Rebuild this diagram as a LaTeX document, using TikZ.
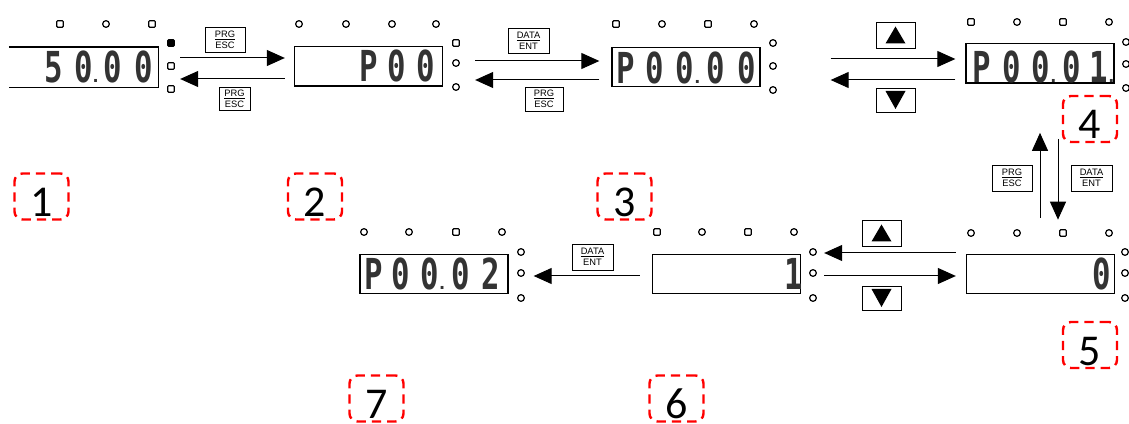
\documentclass[tikz,border=0pt]{standalone}
\usepackage{fontspec}
\usetikzlibrary{arrows.meta,calc}
\newfontfamily\keyf{Liberation Sans}
\newfontfamily\labf{Carlito}
\newfontfamily\digf{DejaVu Sans Mono}
\newfontfamily\dotf{DejaVu Sans}
\newcommand\segdig[1]{\scalebox{0.72}[1]{#1}}
\newcommand\segdot[1]{\scalebox{0.72}[1]{#1}\rlap{\dotf\bfseries\fontsize{12}{12}\selectfont .}}
\tikzset{
 disp/.style={draw, line width=1pt, minimum width=111pt, minimum height=29.5pt, inner sep=0pt},
 dline/.style={line width=1pt},
 dig/.style={font=\digf\bfseries\fontsize{32}{32}\selectfont, text=black!80, inner sep=0pt, anchor=base},
 led/.style={circle, draw, line width=0.9pt, minimum size=5pt, inner sep=0pt},
 ledsq/.style={rectangle, rounded corners=0.8pt, draw, line width=0.9pt, minimum size=5pt, inner sep=0pt},
 ledon/.style={ledsq, fill=black},
 key/.style={draw, line width=0.6pt, inner sep=0pt, align=center, font=\keyf\fontsize{7}{8.5}\selectfont},
 btn/.style={draw, line width=0.6pt, inner sep=0pt, minimum width=29.25pt},
 arr/.style={line width=0.75pt, -{Triangle[length=13.5pt,width=12pt]}},
 lab/.style={draw=red, line width=1.8pt, dash pattern=on 7pt off 4.5pt, rounded corners=6pt, minimum width=40.5pt, minimum height=34.5pt, inner sep=0pt, text height=30pt, text depth=0pt, font=\labf\fontsize{33}{33}\selectfont},
}
\begin{document}
\begin{tikzpicture}[x=0.75pt,y=-0.75pt]
\useasboundingbox (0,0) rectangle (1129,424);
\clip (0,0) rectangle (1129,424);

% displays
\node[disp, draw=none, name=d1] at (83.5,67.5) {};
\draw[dline] (d1.north west) -- (d1.north east) -- (d1.south east) -- (d1.south west);
\node[disp, name=d2] at (368.5,66.5) {};
\node[disp, name=d3] at (686,67) {};
\node[disp, name=d4] at (1040,63.5) {};
\node[disp, name=d5] at (1040.5,274) {};
\node[disp, name=d6] at (726.5,274) {};
\node[disp, name=d7] at (434,274) {};

% digits
\node[dig, name=g1-1] at (53.5,83) {\segdig{5}};
\node[dig, name=g1-2] at (83.5,83) {\segdot{0}};
\node[dig, name=g1-3] at (113,83) {\segdig{0}};
\node[dig, name=g1-4] at (144,83) {\segdig{0}};
\node[dig, name=g2-1] at (368.5,82) {\segdig{P}};
\node[dig, name=g2-2] at (396.5,82) {\segdig{0}};
\node[dig, name=g2-3] at (426,82) {\segdig{0}};
\node[dig, name=g3-1] at (626,84) {\segdig{P}};
\node[dig, name=g3-2] at (655,84) {\segdig{0}};
\node[dig, name=g3-3] at (685,84) {\segdot{0}};
\node[dig, name=g3-4] at (716,84) {\segdig{0}};
\node[dig, name=g3-5] at (747,84) {\segdig{0}};
\node[dig, name=g4-1] at (982,83) {\segdig{P}};
\node[dig, name=g4-2] at (1012,83) {\segdig{0}};
\node[dig, name=g4-3] at (1041,83) {\segdot{0}};
\node[dig, name=g4-4] at (1072,83) {\segdig{0}};
\node[dig, name=g4-5] at (1099,83) {\segdot{1}};
\node[dig, name=g5-1] at (1102,290) {\segdig{0}};
\node[dig, name=g6-1] at (794,290) {\segdig{1}};
\node[dig, name=g7-1] at (374,290) {\segdig{P}};
\node[dig, name=g7-2] at (401,290) {\segdig{0}};
\node[dig, name=g7-3] at (430,290) {\segdot{0}};
\node[dig, name=g7-4] at (461,290) {\segdig{0}};
\node[dig, name=g7-5] at (491,290) {\segdig{2}};

% indicators
\foreach \x/\y/\s [count=\i] in {60/24/ledsq,106/24/led,152/24/ledsq,171/43/ledon,171/66/ledsq,171/89/ledsq}
  \node[\s, name=i1-\i] at (\x,\y) {};
\foreach \x/\y/\s [count=\i] in {299/24/led,346/24/led,392/24/led,436/24/led,456/43/ledsq,456/63/led,456/87/led}
  \node[\s, name=i2-\i] at (\x,\y) {};
\foreach \x/\y/\s [count=\i] in {616/24/ledsq,662/24/led,708/24/ledsq,754/24/led,773/43/led,773/66/led,773/90/led}
  \node[\s, name=i3-\i] at (\x,\y) {};
\foreach \x/\y/\s [count=\i] in {971/22/ledsq,1017/22/led,1063/22/ledsq,1109/22/led,1126/42/led,1126/64/led,1126/88/led}
  \node[\s, name=i4-\i] at (\x,\y) {};
\foreach \x/\y/\s [count=\i] in {971/233/led,1017/233/led,1063/233/ledsq,1109/233/led,1125/252/led,1125/273/led,1125/298/led}
  \node[\s, name=i5-\i] at (\x,\y) {};
\foreach \x/\y/\s [count=\i] in {657/232/ledsq,702/232/led,748/232/ledsq,794/232/led,813/252/led,813/273/led,813/298/led}
  \node[\s, name=i6-\i] at (\x,\y) {};
\foreach \x/\y/\s [count=\i] in {364/232/led,409/232/led,456/232/ledsq,502/232/led,521/252/led,521/273/led,521/298/led}
  \node[\s, name=i7-\i] at (\x,\y) {};

% keys
\node[key, minimum width=30pt, minimum height=18.75pt, name=k12] at (225,39.5) {\underline{PRG}\\ESC};
\node[key, minimum width=23.25pt, minimum height=17.25pt, name=k21] at (234.5,98.5) {\underline{PRG}\\ESC};
\node[key, minimum width=30.75pt, minimum height=18.75pt, name=k23] at (528.5,40.5) {\underline{DATA}\\ENT};
\node[key, minimum width=28.5pt, minimum height=18pt, name=k32] at (544,99) {\underline{PRG}\\ESC};
\node[btn, minimum height=19.5pt, name=k34u] at (895.5,35) {};
\node[btn, minimum height=18pt, name=k34d] at (895.5,100) {};
\node[key, minimum width=30pt, minimum height=19.5pt, name=k45p] at (1012,178) {\underline{PRG}\\ESC};
\node[key, minimum width=30.75pt, minimum height=19.5pt, name=k45d] at (1091.5,178) {\underline{DATA}\\ENT};
\node[btn, minimum height=19.5pt, name=k56u] at (881.5,233) {};
\node[btn, minimum height=18pt, name=k56d] at (881.5,298) {};
\node[key, minimum width=30.75pt, minimum height=19.5pt, name=k67] at (592.5,257) {\underline{DATA}\\ENT};

\foreach \b in {k34u,k56u}
  \fill ($(\b.center)+(0,-8.5)$) -- ($(\b.center)+(10,8.5)$) -- ($(\b.center)+(-10,8.5)$) -- cycle;
\foreach \b in {k34d,k56d}
  \fill ($(\b.center)+(-10,-9)$) -- ($(\b.center)+(10,-9)$) -- ($(\b.center)+(0,9)$) -- cycle;

% arrows
\draw[arr] ($(d1.east)+(22,-9.5)$) -- ($(d2.west)+(-9,-8.5)$);
\draw[arr] ($(d2.west)+(-9,12.5)$) -- ($(d1.east)+(22,11.5)$);
\draw[arr] ($(d2.east)+(32,-5.5)$) -- ($(d3.west)+(-12,-6)$);
\draw[arr] ($(d3.west)+(-12,13)$) -- ($(d2.east)+(32,13.5)$);
\draw[arr] ($(d3.east)+(70,-8)$) -- ($(d4.west)+(-10,-4.5)$);
\draw[arr] ($(d4.west)+(-10,16.5)$) -- ($(d3.east)+(70,13)$);
\draw[arr] ($(d5.north)+(-0.5,-36)$) -- ($(d4.south)+(0,49)$);
\draw[arr] ($(d4.south)+(18,55)$) -- ($(d5.north)+(17.5,-34)$);
\draw[arr] ($(d5.west)+(-10,-21)$) -- ($(d6.east)+(23,-21)$);
\draw[arr] ($(d6.east)+(23,2)$) -- ($(d5.west)+(-10,2)$);
\draw[arr] ($(d6.west)+(-12,2)$) -- ($(d7.east)+(25,2)$);

% step labels
\node[lab, name=L1] at (41.5,196.5) {1};
\node[lab, name=L2] at (315,196.5) {2};
\node[lab, name=L3] at (624.5,196.5) {3};
\node[lab, name=L4] at (1090,119) {4};
\node[lab, name=L5] at (1090,345) {5};
\node[lab, name=L6] at (676.5,398.5) {6};
\node[lab, name=L7] at (376.5,398.5) {7};
\end{tikzpicture}
\end{document}
